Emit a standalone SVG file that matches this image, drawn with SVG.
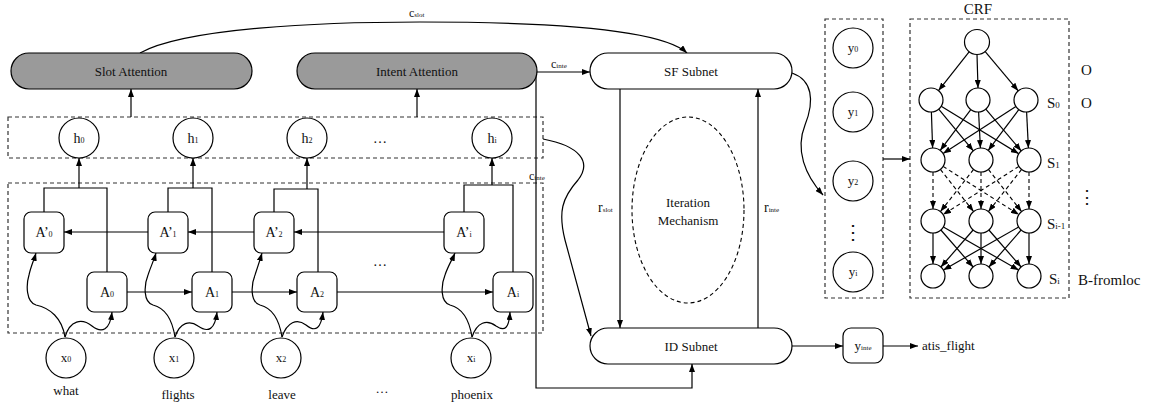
<svg xmlns="http://www.w3.org/2000/svg" width="1151" height="403" viewBox="0 0 1151 403" font-family="'Liberation Serif', 'DejaVu Serif', serif">
<defs>
<marker id="ah" viewBox="0 0 8 6" refX="8" refY="3" markerWidth="8" markerHeight="6" markerUnits="userSpaceOnUse" orient="auto"><path d="M0,0 L8,3 L0,6 z" fill="#000"/></marker>
</defs>
<style>
text{font-family:'Liberation Serif','DejaVu Serif',serif;fill:#111}
.t{font-size:13px;text-anchor:middle}
.big{font-size:14px;text-anchor:middle}
.sub{font-size:8px}
.crf{font-size:15px}
.n{fill:#fff;stroke:#000;stroke-width:1.2}
.g{fill:#9a9a9a;stroke:#000;stroke-width:1.2}
.db{fill:none;stroke:#333;stroke-width:1.2;stroke-dasharray:4 3}
.c{fill:none;stroke:#000;stroke-width:1.2}
.a{fill:none;stroke:#000;stroke-width:1.2;marker-end:url(#ah)}
.da{fill:none;stroke:#000;stroke-width:1.1;stroke-dasharray:4 3;marker-end:url(#ah)}
</style>
<rect width="1151" height="403" fill="#fff"/>

<g id="hbox"><rect class="db" x="8" y="117" width="535" height="41"/></g>
<g id="rnnbox"><rect class="db" x="8" y="183" width="535" height="150"/></g>
<g id="ybox"><rect class="db" x="825" y="19" width="58" height="279"/></g>
<g id="crfbox"><rect class="db" x="910" y="19" width="159" height="279"/><text class="crf" x="978" y="14" text-anchor="middle">CRF</text></g>

<g id="connectors">
<path class="a" d="M131,117 V89"/>
<path class="a" d="M417,117 V89"/>
<path class="a" d="M140,53 C185,28 320,22 420,22 C540,22 660,28 687,53"/>
<path class="a" d="M537,72 H590"/>
<path class="a" d="M536,72 V388 H692 V364"/>
<path class="a" d="M543,139 C580,146 592,162 578,180 C562,198 558,212 565,240 L591,336"/>
<path class="a" d="M792,73 C812,80 815,100 805,125 C795,150 805,175 823,195"/>
<path class="a" d="M620,89 V328"/>
<path class="a" d="M758,328 V89"/>
<path class="a" d="M792,346 H843"/>
<path class="a" d="M883,346 H918"/>
<path class="a" d="M883,159 H910"/>
<path class="a" d="M148,232 H64"/>
<path class="a" d="M254,232 H188"/>
<path class="a" d="M444,232 H294"/>
<path class="a" d="M127,292 H192"/>
<path class="a" d="M232,292 H297"/>
<path class="a" d="M337,292 H493"/>
<path class="c" d="M44,212 V188 H107 V272"/>
<path class="a" d="M79,188 V158"/>
<path class="c" d="M168,212 V188 H212 V272"/>
<path class="a" d="M193,188 V158"/>
<path class="c" d="M274,212 V189 H318 V272"/>
<path class="a" d="M307,189 V158"/>
<path class="c" d="M464,212 V185 H513 V272"/>
<path class="a" d="M492,185 V158"/>
<path class="a" d="M65,337 C62,318 50,308 36,305 C26,302 26,285 29,275 C31,266 34,260 36,253"/>
<path class="a" d="M65,337 C70,320 82,318 92,326 C102,334 110,330 112,312"/>
<path class="a" d="M175,337 C172,318 165,308 153,305 C143,302 144,285 148,275 C151,266 154,260 156,253"/>
<path class="a" d="M175,337 C180,322 190,320 198,326 C208,333 215,330 217,312"/>
<path class="a" d="M282,337 C279,318 272,308 260,305 C250,302 251,285 255,275 C258,266 260,260 262,253"/>
<path class="a" d="M282,337 C287,322 297,318 306,325 C316,333 321,328 323,312"/>
<path class="a" d="M472,337 C469,318 462,308 450,305 C440,302 441,285 445,275 C448,266 452,260 455,253"/>
<path class="a" d="M472,337 C477,322 487,319 496,326 C505,332 509,328 510,312"/>
<path class="a" d="M969.5,51.4 L938.5,90.6"/>
<path class="a" d="M977,54.5 L978,88"/>
<path class="a" d="M984.8,51.2 L1018.2,90.8"/>
<path class="a" d="M931.4,112 L932.6,148"/>
<path class="a" d="M938.7,109.2 L973.3,150.8"/>
<path class="a" d="M941.2,106.3 L1018.8,153.7"/>
<path class="a" d="M970.8,109.6 L940.2,150.4"/>
<path class="a" d="M978.6,112 L980.4,148"/>
<path class="a" d="M985.8,109.1 L1021.2,150.9"/>
<path class="a" d="M1015.9,106.5 L943.1,153.5"/>
<path class="a" d="M1018.8,109.6 L988.2,150.4"/>
<path class="a" d="M1026.6,112 L1028.4,148"/>
<path class="da" d="M933,172 L933,209"/>
<path class="da" d="M940.4,169.4 L973.6,211.6"/>
<path class="da" d="M943.1,166.4 L1018.9,214.6"/>
<path class="da" d="M973.6,169.4 L940.4,211.6"/>
<path class="da" d="M981,172 L981,209"/>
<path class="da" d="M988.4,169.4 L1021.6,211.6"/>
<path class="da" d="M1018.9,166.4 L943.1,214.6"/>
<path class="da" d="M1021.6,169.4 L988.4,211.6"/>
<path class="da" d="M1029,172 L1029,209"/>
<path class="a" d="M933,233 L933,264"/>
<path class="a" d="M940.9,230 L973.1,267"/>
<path class="a" d="M943.4,227 L1018.6,270"/>
<path class="a" d="M973.1,230 L940.9,267"/>
<path class="a" d="M981,233 L981,264"/>
<path class="a" d="M988.9,230 L1021.1,267"/>
<path class="a" d="M1018.6,227 L943.4,270"/>
<path class="a" d="M1021.1,230 L988.9,267"/>
<path class="a" d="M1029,233 L1029,264"/>
</g>

<g id="labels">
<text x="409" y="17" font-size="12">c<tspan font-size="7">slot</tspan></text>
<text x="551" y="68" font-size="12">c<tspan font-size="7">inte</tspan></text>
<text x="529" y="180" font-size="12">c<tspan font-size="7">inte</tspan></text>
<text x="598" y="212" font-size="14">r<tspan font-size="7">slot</tspan></text>
<text x="764" y="212" font-size="14">r<tspan font-size="7">inte</tspan></text>
</g>

<g id="slot_attention"><rect class="g" x="11" y="53" width="241" height="36" rx="18"/><text class="t" x="131" y="76">Slot Attention</text></g>
<g id="intent_attention"><rect class="g" x="297" y="53" width="240" height="36" rx="18"/><text class="t" x="417" y="76">Intent Attention</text></g>
<g id="sf_subnet"><rect class="n" x="590" y="53" width="202" height="36" rx="18"/><text class="t" x="691" y="76">SF Subnet</text></g>
<g id="id_subnet"><rect class="n" x="590" y="328" width="202" height="36" rx="18"/><text class="t" x="691" y="351">ID Subnet</text></g>
<g id="iteration"><ellipse cx="688" cy="210" rx="56" ry="93" fill="none" stroke="#000" stroke-width="1.1" stroke-dasharray="4 3"/><text class="t" x="688" y="207">Iteration</text><text class="t" x="688" y="225">Mechanism</text></g>

<g id="h0"><circle class="n" cx="79" cy="138" r="20"/><text class="big" x="79" y="143">h<tspan class="sub">0</tspan></text></g>
<g id="h1"><circle class="n" cx="193" cy="138" r="20"/><text class="big" x="193" y="143">h<tspan class="sub">1</tspan></text></g>
<g id="h2"><circle class="n" cx="307" cy="138" r="20"/><text class="big" x="307" y="143">h<tspan class="sub">2</tspan></text></g>
<g id="hdots"><text class="big" x="380" y="143">…</text></g>
<g id="hi"><circle class="n" cx="492" cy="138" r="20"/><text class="big" x="492" y="143">h<tspan class="sub">i</tspan></text></g>

<g id="Ap0"><rect class="n" x="24" y="212" width="40" height="41" rx="7"/><text class="big" x="44" y="237">A’<tspan class="sub">0</tspan></text></g>
<g id="Ap1"><rect class="n" x="148" y="212" width="40" height="41" rx="7"/><text class="big" x="168" y="237">A’<tspan class="sub">1</tspan></text></g>
<g id="Ap2"><rect class="n" x="254" y="212" width="40" height="41" rx="7"/><text class="big" x="274" y="237">A’<tspan class="sub">2</tspan></text></g>
<g id="Api"><rect class="n" x="444" y="212" width="40" height="41" rx="7"/><text class="big" x="464" y="237">A’<tspan class="sub">i</tspan></text></g>
<g id="A0"><rect class="n" x="87" y="272" width="40" height="40" rx="7"/><text class="big" x="107" y="297">A<tspan class="sub">0</tspan></text></g>
<g id="A1"><rect class="n" x="192" y="272" width="40" height="40" rx="7"/><text class="big" x="212" y="297">A<tspan class="sub">1</tspan></text></g>
<g id="A2"><rect class="n" x="297" y="272" width="40" height="40" rx="7"/><text class="big" x="317" y="297">A<tspan class="sub">2</tspan></text></g>
<g id="Ai"><rect class="n" x="493" y="272" width="40" height="40" rx="7"/><text class="big" x="513" y="297">A<tspan class="sub">i</tspan></text></g>
<g id="adots"><text class="big" x="380" y="266">…</text></g>

<g id="x0"><circle class="n" cx="66" cy="358" r="20"/><text class="t" x="66" y="362">x<tspan class="sub">0</tspan></text><text class="t" x="66" y="395">what</text></g>
<g id="x1"><circle class="n" cx="174" cy="358" r="20"/><text class="t" x="174" y="362">x<tspan class="sub">1</tspan></text><text class="t" x="178" y="399">flights</text></g>
<g id="x2"><circle class="n" cx="281" cy="358" r="20"/><text class="t" x="281" y="362">x<tspan class="sub">2</tspan></text><text class="t" x="282" y="399">leave</text></g>
<g id="xdots"><text class="t" x="382" y="393">…</text></g>
<g id="xi"><circle class="n" cx="471" cy="358" r="20"/><text class="t" x="471" y="362">x<tspan class="sub">i</tspan></text><text class="t" x="472" y="399">phoenix</text></g>

<g id="y0"><circle class="n" cx="853" cy="48" r="20"/><text class="t" x="853" y="52">y<tspan class="sub">0</tspan></text></g>
<g id="y1"><circle class="n" cx="853" cy="112" r="20"/><text class="t" x="853" y="116">y<tspan class="sub">1</tspan></text></g>
<g id="y2"><circle class="n" cx="853" cy="181" r="20"/><text class="t" x="853" y="185">y<tspan class="sub">2</tspan></text></g>
<g id="ydots"><text x="853" y="239" font-size="20" text-anchor="middle">⋮</text></g>
<g id="yi"><circle class="n" cx="853" cy="272" r="20"/><text class="t" x="853" y="276">y<tspan class="sub">i</tspan></text></g>

<g id="yinte"><rect class="n" x="843" y="328" width="40" height="35" rx="8"/><text class="t" x="863" y="350" font-size="12">y<tspan font-size="7">inte</tspan></text></g>
<g id="atis"><text x="922" y="350" font-size="13">atis_flight</text></g>

<g id="crf_nodes">
<circle class="n" cx="977" cy="42" r="12.5"/>
<circle class="n" cx="931" cy="100" r="12"/><circle class="n" cx="978" cy="100" r="12"/><circle class="n" cx="1026" cy="100" r="12"/>
<circle class="n" cx="933" cy="160" r="12"/><circle class="n" cx="981" cy="160" r="12"/><circle class="n" cx="1029" cy="160" r="12"/>
<circle class="n" cx="933" cy="221" r="12"/><circle class="n" cx="981" cy="221" r="12"/><circle class="n" cx="1029" cy="221" r="12"/>
<circle class="n" cx="933" cy="276" r="12"/><circle class="n" cx="981" cy="276" r="12"/><circle class="n" cx="1029" cy="276" r="12"/>
</g>
<g id="crf_labels">
<text class="crf" x="1047" y="108">S<tspan font-size="9">0</tspan></text>
<text class="crf" x="1047" y="168">S<tspan font-size="9">1</tspan></text>
<text class="crf" x="1047" y="229">S<tspan font-size="9">i-1</tspan></text>
<text class="crf" x="1049" y="284">S<tspan font-size="9">i</tspan></text>
<text class="crf" x="1081" y="75">O</text>
<text class="crf" x="1081" y="108">O</text>
<text x="1087" y="203" font-size="18" text-anchor="middle">⋮</text>
<text class="crf" x="1078" y="285">B-fromloc</text>
</g>
</svg>
